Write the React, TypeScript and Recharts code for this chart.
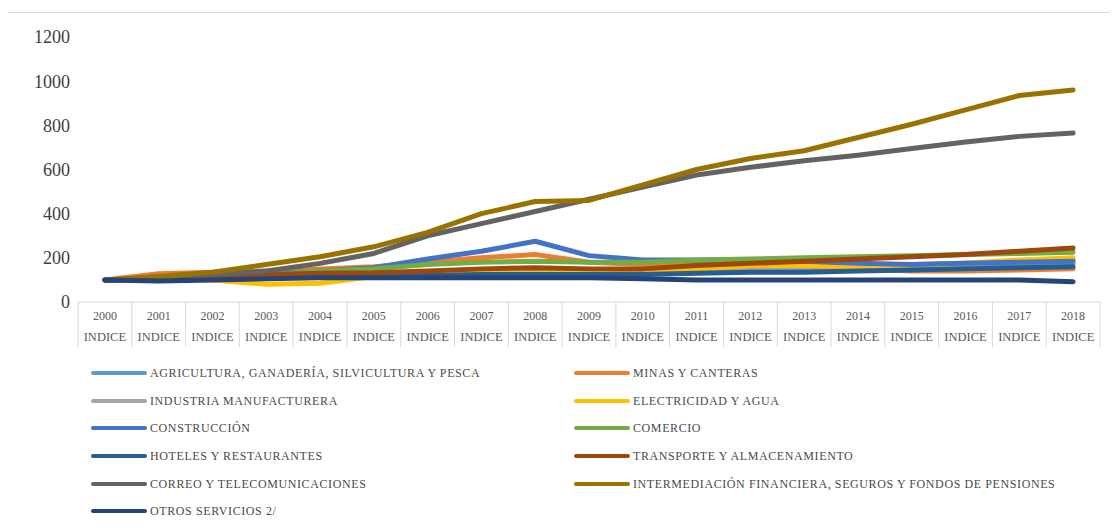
import React from "react";
import { LineChart, Line, XAxis, YAxis } from "recharts";

const years = ["2000","2001","2002","2003","2004","2005","2006","2007","2008","2009","2010","2011","2012","2013","2014","2015","2016","2017","2018"];
const subLabel = "INDICE";
const yTicks = [0, 200, 400, 600, 800, 1000, 1200];

const agricultura = [100,105,110,115,120,122,125,130,135,130,135,140,145,150,155,160,165,170,175];
const minas = [100,128,135,140,150,160,180,200,215,180,170,175,170,160,150,140,140,145,150];
const industria = [100,105,110,115,120,125,130,140,145,140,145,150,155,160,165,170,175,180,190];
const electricidad = [100,105,100,80,85,115,120,130,130,130,140,150,165,165,160,165,175,190,200];
const construccion = [100,108,118,128,140,155,195,230,275,210,190,190,190,185,175,170,175,180,185];
const comercio = [100,110,115,125,140,150,170,180,185,180,180,190,195,200,205,210,215,220,225];
const hoteles = [100,100,105,110,115,120,120,125,125,125,125,130,135,135,140,145,150,155,160];
const transporte = [100,105,115,125,130,132,140,150,155,150,150,165,175,185,195,205,215,230,245];
const correo = [100,110,125,140,175,220,300,355,410,465,520,575,610,640,665,695,725,750,765];
const intermediacion = [100,115,135,170,205,250,315,400,455,460,530,600,650,685,745,805,870,935,960];
const otros = [100,95,100,105,110,110,110,110,110,110,105,100,100,100,100,100,100,100,92];

const seriesNames = [
  "AGRICULTURA, GANADERÍA, SILVICULTURA Y PESCA",
  "MINAS Y CANTERAS",
  "INDUSTRIA MANUFACTURERA",
  "ELECTRICIDAD Y AGUA",
  "CONSTRUCCIÓN",
  "COMERCIO",
  "HOTELES Y RESTAURANTES",
  "TRANSPORTE Y ALMACENAMIENTO",
  "CORREO Y TELECOMUNICACIONES",
  "INTERMEDIACIÓN FINANCIERA, SEGUROS Y FONDOS DE PENSIONES",
  "OTROS SERVICIOS 2/",
];
const seriesValues = [agricultura, minas, industria, electricidad, construccion, comercio, hoteles, transporte, correo, intermediacion, otros];
const seriesColors = ["#5B9BD5","#ED7D31","#A5A5A5","#FFC000","#4472C4","#70AD47","#255E91","#9E480E","#636363","#997300","#264478"];

const data = years.map((y, i) => {
  const row: Record<string, any> = { year: y };
  seriesValues.forEach((vals, s) => { row["s" + s] = vals[i]; });
  return row;
});

const CHART_W = 1100;
const CHART_H = 380;
const MARGIN = { top: 24, right: 8, left: 0, bottom: 46 };
const Y_W = 70;
const PLOT_W = CHART_W - MARGIN.left - MARGIN.right - Y_W;
const BAND = PLOT_W / years.length;
const FONT = "'Liberation Serif', 'Times New Roman', serif";

const XTick = (props: any) => {
  const { x, y, payload, index } = props;
  const left = x - BAND / 2;
  const right = x + BAND / 2;
  const isLast = index === years.length - 1;
  return (
    <g>
      <line x1={left} y1={y} x2={left} y2={y + 45} stroke="#d9d9d9" strokeWidth={1} />
      {isLast && <line x1={right} y1={y} x2={right} y2={y + 45} stroke="#d9d9d9" strokeWidth={1} />}
      <text x={x} y={y + 18} textAnchor="middle" fontSize={12} fill="#595959" fontFamily={FONT}>{payload.value}</text>
      <text x={x} y={y + 39} textAnchor="middle" fontSize={12.5} fill="#595959" fontFamily={FONT}>{subLabel}</text>
    </g>
  );
};

export default function App() {
  const leftCol = seriesNames.map((n, i) => i).filter(i => i % 2 === 0);
  const rightCol = seriesNames.map((n, i) => i).filter(i => i % 2 === 1);
  const rowY = [360, 388, 415, 443, 471, 498];
  const item = (i: number, row: number, lineX: number) => (
    <div key={i} style={{ position: "absolute", left: lineX, top: rowY[row] - 8, height: 16, display: "flex", alignItems: "center", whiteSpace: "nowrap" }}>
      <div style={{ width: 56, height: 4, background: seriesColors[i], borderRadius: 2 }} />
      <span style={{ marginLeft: 3, fontSize: 12, letterSpacing: 0.6, color: "#4a4a4a", fontFamily: FONT }}>{seriesNames[i]}</span>
    </div>
  );
  return (
    <div style={{ position: "relative", width: 1102, height: 514, marginTop: 4, marginLeft: -1, borderTop: "1px solid #d9d9d9", borderLeft: "1px solid #d9d9d9", background: "#fff" }}>
      <div style={{ position: "absolute", left: 0, top: 0 }}>
        <LineChart width={CHART_W} height={CHART_H} data={data} margin={MARGIN}>
          <XAxis dataKey="year" axisLine={{ stroke: "#d9d9d9" }} tickLine={false} tickSize={0} tickMargin={0} height={45} interval={0}
            padding={{ left: BAND / 2, right: BAND / 2 }} tick={<XTick />} />
          <YAxis domain={[0, 1200]} ticks={yTicks} width={Y_W} axisLine={false} tickLine={false} tickSize={0} tickMargin={8}
            tick={{ fontSize: 18, fill: "#404040", fontFamily: FONT }} />
          {seriesValues.map((_, s) => (
            <Line key={s} dataKey={"s" + s} type="linear" stroke={seriesColors[s]} strokeWidth={5} dot={false} isAnimationActive={false} strokeLinejoin="round" strokeLinecap="round" />
          ))}
        </LineChart>
      </div>
      {leftCol.map((i, r) => item(i, r, 83))}
      {rightCol.map((i, r) => item(i, r, 566))}
    </div>
  );
}
